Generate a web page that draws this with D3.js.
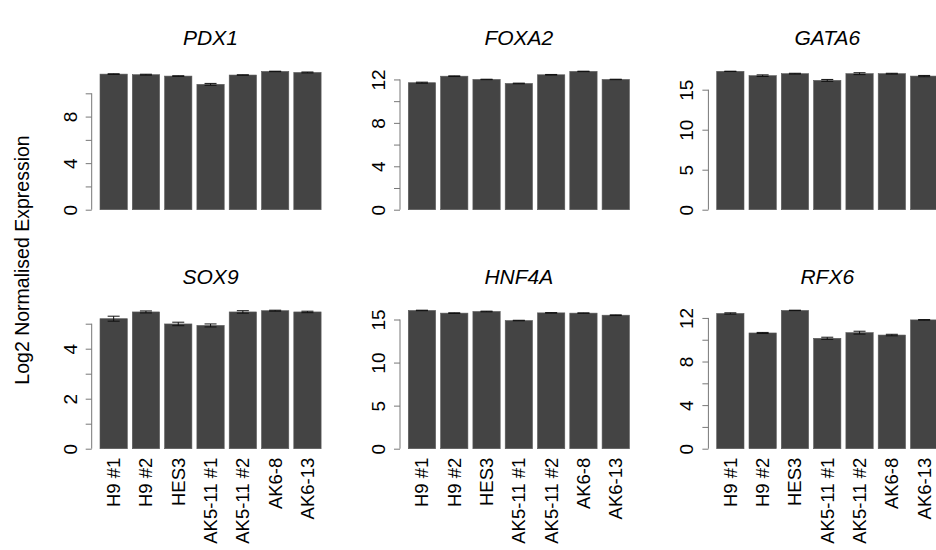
<!DOCTYPE html>
<html><head><meta charset="utf-8">
<script src="https://cdn.jsdelivr.net/npm/d3@7"></script>
<style>body{margin:0;background:#fff}svg{display:block;font-family:"Liberation Sans",Arial,sans-serif}</style>
</head><body><svg id="c" width="936" height="550"></svg>
<script>
const samples = ["H9 #1","H9 #2","HES3","AK5-11 #1","AK5-11 #2","AK6-8","AK6-13"];
const genes = ["PDX1","FOXA2","GATA6","SOX9","HNF4A","RFX6"];
const pdx1  = [11.65,11.60,11.48,10.77,11.57,11.88,11.79];
const foxa2 = [11.70,12.30,12.00,11.63,12.43,12.74,12.00];
const gata6 = [17.29,16.75,17.00,16.16,17.00,17.00,16.70];
const sox9  = [5.20,5.47,4.99,4.93,5.47,5.52,5.47];
const hnf4a = [16.05,15.74,15.93,14.88,15.77,15.74,15.50];
const rfx6  = [12.41,10.62,12.69,10.13,10.65,10.43,11.82];
const pdx1Err  = [0.03,0.04,0.03,0.08,0.02,0.02,0.04];
const foxa2Err = [0.05,0.03,0.02,0.03,0.03,0.02,0.02];
const gata6Err = [0.02,0.10,0.05,0.12,0.12,0.05,0.08];
const sox9Err  = [0.10,0.04,0.07,0.06,0.05,0.02,0.03];
const hnf4aErr = [0.03,0.04,0.04,0.03,0.03,0.03,0.04];
const rfx6Err  = [0.06,0.05,0.02,0.10,0.13,0.07,0.03];
const pdx1Ticks=[0,2,4,6,8,10], pdx1Labels=[0,4,8];
const foxa2Ticks=[0,2,4,6,8,10,12], foxa2Labels=[0,4,8,12];
const gata6Ticks=[0,5,10,15], gata6Labels=[0,5,10,15];
const sox9Ticks=[0,1,2,3,4,5], sox9Labels=[0,2,4];
const hnf4aTicks=[0,5,10,15], hnf4aLabels=[0,5,10,15];
const rfx6Ticks=[0,2,4,6,8,10,12], rfx6Labels=[0,4,8,12];
const yLabel = "Log2 Normalised Expression";

const values=[pdx1,foxa2,gata6,sox9,hnf4a,rfx6];
const errs=[pdx1Err,foxa2Err,gata6Err,sox9Err,hnf4aErr,rfx6Err];
const ticks=[pdx1Ticks,foxa2Ticks,gata6Ticks,sox9Ticks,hnf4aTicks,rfx6Ticks];
const labels=[pdx1Labels,foxa2Labels,gata6Labels,sox9Labels,hnf4aLabels,rfx6Labels];

const svg=d3.select("#c");
const colX=[100,408.3,716.7], rowZero=[209.7,448.7], H=138.5;
const barsW=6*32.3+27.3;

genes.forEach((g,i)=>{
  const col=i%3,row=Math.floor(i/3);
  const x0=colX[col], y0=rowZero[row];
  const vals=values[i], er=errs[i];
  const yMax=d3.max(vals.map((v,j)=>v+er[j]));
  const x=d3.scaleBand().domain(samples).range([x0,x0+barsW]).paddingInner(5/32.3).paddingOuter(0);
  const y=d3.scaleLinear().domain([0,yMax]).range([y0,y0-H]);
  const gp=svg.append("g");
  gp.selectAll("rect").data(samples).join("rect")
    .attr("x",d=>x(d)).attr("width",x.bandwidth())
    .attr("y",(d,j)=>y(vals[j])).attr("height",(d,j)=>y(0)-y(vals[j]))
    .attr("fill","#444444").attr("stroke","#5a5a5a").attr("stroke-width",0.6);
  const eb=gp.append("g").attr("stroke","#111").attr("stroke-width",1);
  samples.forEach((s,j)=>{
    const cx=x(s)+x.bandwidth()/2, lo=y(vals[j]-er[j]), hi=y(vals[j]+er[j]);
    eb.append("line").attr("x1",cx).attr("x2",cx).attr("y1",lo).attr("y2",hi);
    eb.append("line").attr("x1",cx-6).attr("x2",cx+6).attr("y1",lo).attr("y2",lo);
    eb.append("line").attr("x1",cx-6).attr("x2",cx+6).attr("y1",hi).attr("y2",hi);
  });
  const ax=x0-8.3;
  const tv=ticks[i];
  const axis=d3.axisLeft(y).tickValues(tv).tickSize(6).tickFormat(d=>labels[i].includes(d)?d:"");
  const ag=gp.append("g").attr("transform",`translate(${ax},0)`).call(axis);
  ag.select(".domain").remove();
  ag.append("line").attr("x1",0).attr("x2",0).attr("y1",y(0)).attr("y2",y(tv[tv.length-1])).attr("stroke","#777");
  ag.selectAll(".tick line").attr("stroke","#777");
  ag.selectAll(".tick text").attr("font-size",19).attr("fill","#000")
    .attr("text-anchor","middle").attr("x",0).attr("dy",0)
    .attr("transform","translate(-15,0) rotate(-90)").attr("y",0);
  ag.attr("font-family",null);
  svg.append("text").attr("x",x0+barsW/2).attr("y",y0-H-26)
    .attr("text-anchor","middle").attr("font-size",21).attr("font-style","italic").text(g);
  if(row===1){
    samples.forEach(s=>{
      const cx=x(s)+x.bandwidth()/2;
      svg.append("text").attr("transform",`translate(${cx+6.5},${y0+9}) rotate(-90)`)
        .attr("text-anchor","end").attr("font-size",18.5).text(s);
    });
  }
});
svg.append("text").attr("transform",`translate(29,260) rotate(-90)`)
  .attr("text-anchor","middle").attr("font-size",19.5).text(yLabel);
</script></body></html>
